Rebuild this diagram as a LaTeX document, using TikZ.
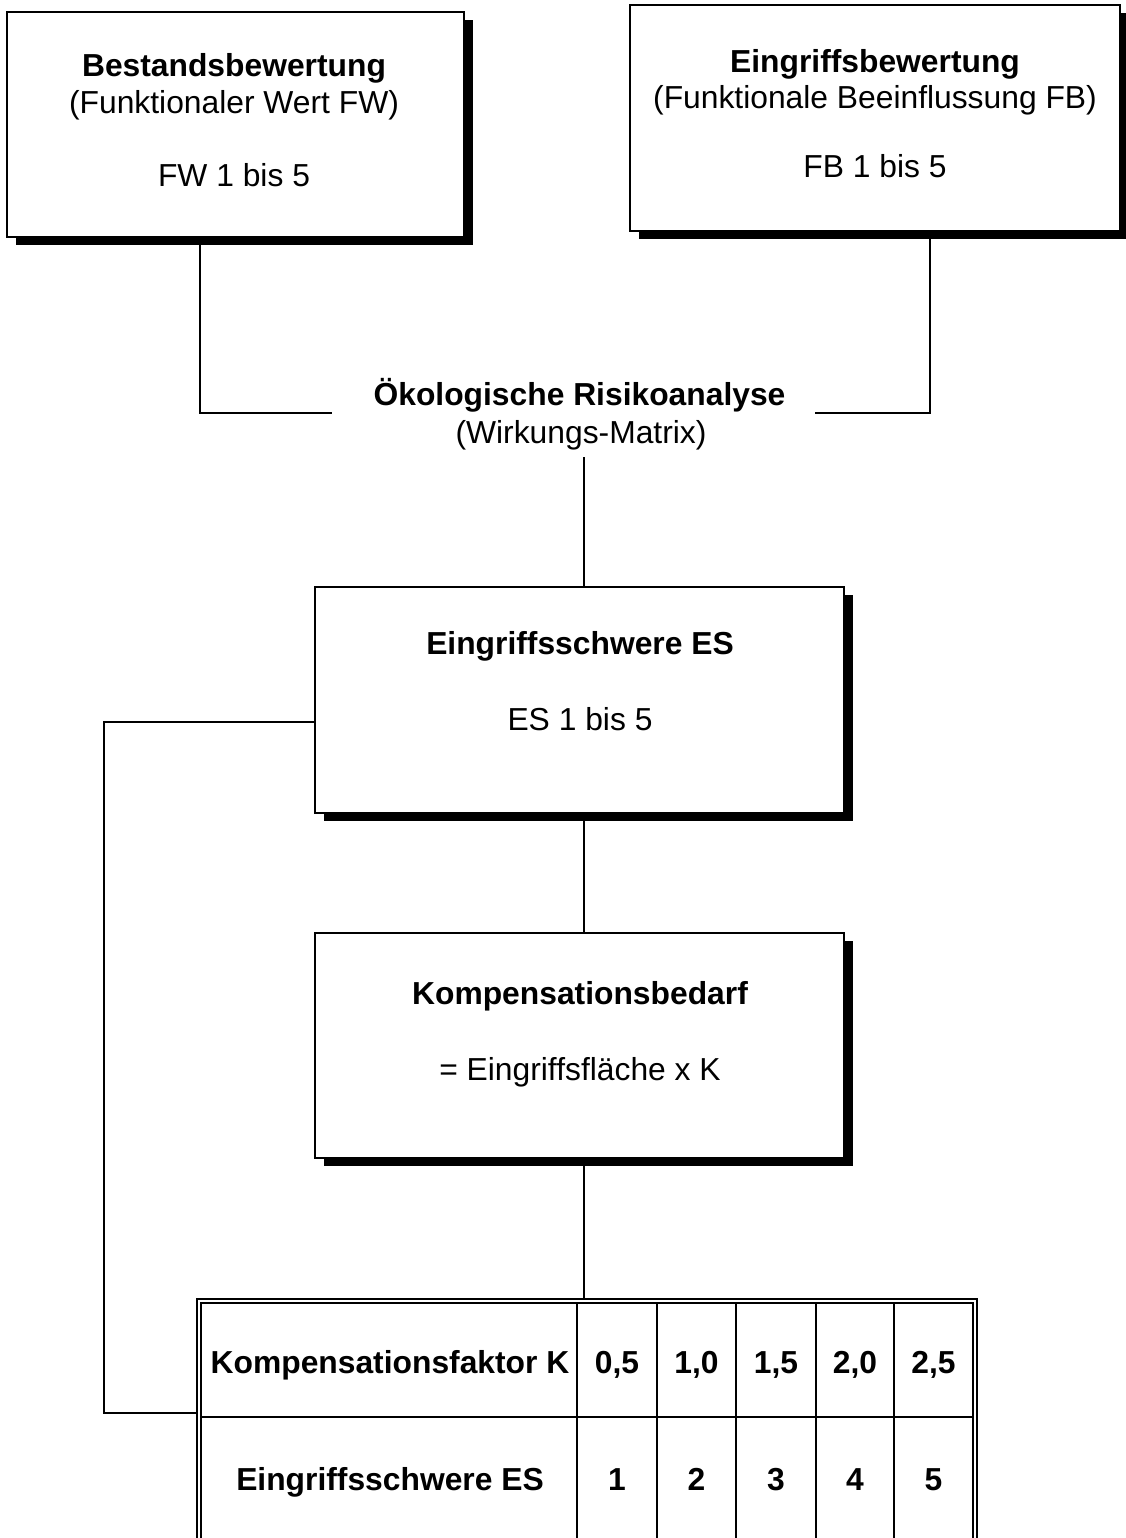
\documentclass[tikz,border=0pt]{standalone}
\usepackage{fontspec}
\setmainfont{Liberation Sans}
\usetikzlibrary{shadows}
\begin{document}
\begin{tikzpicture}[x=1pt,y=-1pt,
  box/.style={draw=black, line width=2.4pt, fill=white, inner sep=0pt,
    drop shadow={shadow xshift=9pt, shadow yshift=-8pt, fill=black, opacity=1}},
  txt/.style={anchor=base, inner sep=0pt, font=\fontsize{31.8}{38}\selectfont},
  btxt/.style={txt, font=\fontsize{31.8}{38}\selectfont\bfseries},
  conn/.style={line width=2.2pt},
  grid/.style={line width=2pt},
  dbl/.style={line width=1.5pt}]
\useasboundingbox (0,0) rectangle (1126,1538);
\fill[white] (0,0) rectangle (1126,1538);

% boxes
\node[box, minimum width=457pt, minimum height=225pt] (bestand) at (235.5,124.5) {};
\node[box, minimum width=490pt, minimum height=226pt] (eingriff) at (875,118) {};
\node[box, minimum width=529pt, minimum height=226pt] (schwere) at (579.5,700) {};
\node[box, minimum width=529pt, minimum height=225pt] (bedarf) at (579.5,1045.5) {};

% box texts
\node[btxt] (bestandA) at (234,77) {Bestandsbewertung};
\node[txt]  (bestandB) at (234,114) {(Funktionaler Wert FW)};
\node[txt]  (bestandC) at (234,187) {FW 1 bis 5};
\node[btxt] (eingriffA) at (875,73) {Eingriffsbewertung};
\node[txt]  (eingriffB) at (875,109) {(Funktionale Beeinflussung FB)};
\node[txt]  (eingriffC) at (875,178) {FB 1 bis 5};
\node[btxt] (schwereA) at (580,654) {Eingriffsschwere ES};
\node[txt]  (schwereB) at (580,730) {ES 1 bis 5};
\node[btxt] (bedarfA) at (580,1004) {Kompensationsbedarf};
\node[txt]  (bedarfB) at (580,1080) {= Eingriffsfläche x K};

% risk analysis label
\node[btxt] (risk) at (579.5,405) {Ökologische Risikoanalyse};
\node[txt]  (riskB) at (581,443) {(Wirkungs-Matrix)};

% connector coordinates
\coordinate (lx) at (200,413);
\coordinate (lend) at (332,413);
\coordinate (rx) at (930,413);
\coordinate (rend) at (815,413);
\coordinate (axis) at (584,457);
\coordinate (sideA) at (104,722);
\coordinate (sideB) at (104,1413);

% table geometry
\coordinate (tNW) at (197,1299);
\coordinate (tSE) at (977,1548);
\coordinate (iNW) at (201,1303);
\coordinate (iSE) at (973,1548);
\coordinate (tLeft) at (197,1413);

% connectors
\draw[conn] (bestand.south -| lx) -- (lx) -- (lend);
\draw[conn] (eingriff.south -| rx) -- (rx) -- (rend);
\draw[conn] (axis) -- (schwere.north -| axis);
\draw[conn] (schwere.south -| axis) -- (bedarf.north -| axis);
\draw[conn] (bedarf.south -| axis) -- (tNW -| axis);
\draw[conn] (schwere.west |- sideA) -- (sideA) -- (sideB) -- (tLeft);

% table
\draw[dbl] (tNW) rectangle (tSE);
\draw[dbl] (iNW) rectangle (iSE);
\draw[grid] (201,1417) -- (973,1417);
\foreach \cx in {577,657,736,816,894}
  \draw[grid] (\cx,1303) -- (\cx,1548);

\node[btxt] (kfak) at (390,1373) {Kompensationsfaktor K};
\node[btxt] (kA) at (617,1373) {0,5};
\node[btxt] (kB) at (696.5,1373) {1,0};
\node[btxt] (kC) at (776,1373) {1,5};
\node[btxt] (kD) at (855,1373) {2,0};
\node[btxt] (kE) at (933.5,1373) {2,5};
\node[btxt] (esL) at (390,1490) {Eingriffsschwere ES};
\node[btxt] (esA) at (617,1490) {1};
\node[btxt] (esB) at (696.5,1490) {2};
\node[btxt] (esC) at (776,1490) {3};
\node[btxt] (esD) at (855,1490) {4};
\node[btxt] (esE) at (933.5,1490) {5};
\end{tikzpicture}
\end{document}
